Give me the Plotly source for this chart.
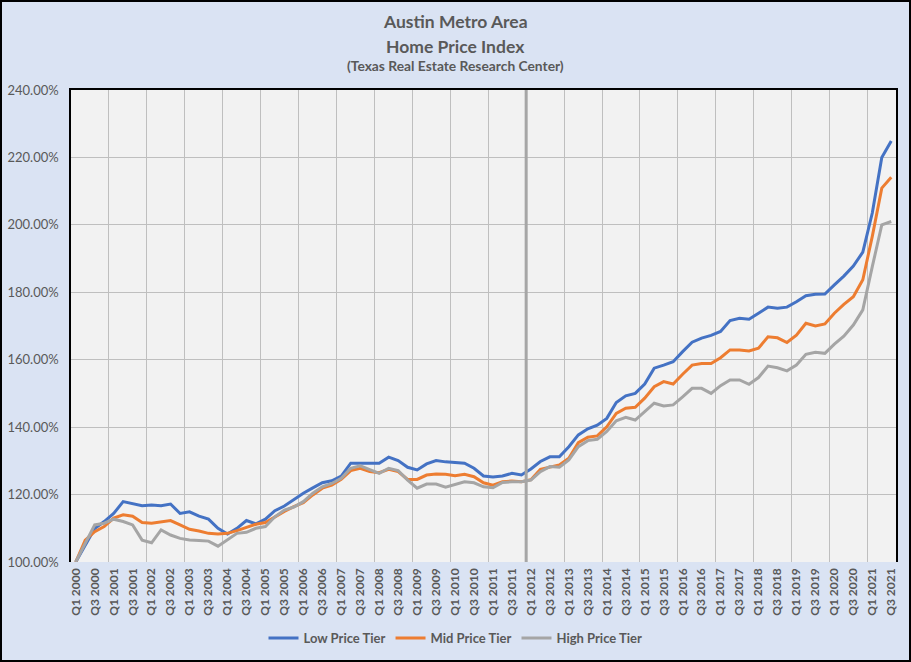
import plotly.graph_objects as go

years = list(range(2000, 2022))
quarter_names = ["Q1", "Q2", "Q3", "Q4"]
quarters = [f"{q} {y}" for y in years for q in quarter_names][:87]
tick_labels = [q for q in quarters if q.startswith("Q1") or q.startswith("Q3")]

low_tier = [100, 105, 109.9, 112, 114.4, 117.9, 117.2, 116.7, 116.9, 116.7,
            117.2, 114.4, 114.9, 113.6, 112.7, 110, 108.3, 110, 112.3, 111.3,
            112.7, 115.2, 116.6, 118.6, 120.4, 122, 123.5, 124.1, 125.5, 129.3,
            129.3, 129.1, 129.3, 131.1, 130.1, 128.1, 127.3, 129.1, 130.1, 129.7,
            129.6, 129.3, 127.8, 125.5, 125.2, 125.5, 126.3, 125.8, 127.6, 129.8,
            131.2, 131.2, 134.2, 137.7, 139.5, 140.6, 142.6, 147.3, 149.3, 150,
            152.8, 157.5, 158.4, 159.4, 162.4, 165.2, 166.4, 167.2, 168.4, 171.6,
            172.3, 172, 173.8, 175.6, 175.3, 175.6, 177.2, 179, 179.4, 179.5,
            182.2, 184.8, 187.8, 191.9, 203.5, 220, 224.9]

mid_tier = [100, 106.5, 109, 110.5, 113, 114, 113.6, 111.7, 111.5, 111.9,
            112.3, 111, 109.7, 109.2, 108.5, 108.3, 108.5, 109.3, 110.2, 111.2,
            111.7, 113.4, 115, 116.4, 117.6, 119.9, 121.9, 122.8, 124.5, 127.1,
            127.8, 126.8, 126.5, 127.5, 126.8, 124.5, 124.5, 125.8, 126.1, 126,
            125.6, 126, 125.3, 123.5, 122.8, 123.8, 124, 123.8, 124.4, 127.5,
            128.1, 128.8, 130.8, 135.4, 137, 137.4, 140.1, 144.1, 145.6, 145.9,
            148.6, 152, 153.5, 152.8, 155.7, 158.4, 158.9, 158.9, 160.6, 162.9,
            162.9, 162.6, 163.4, 166.8, 166.5, 165.1, 167.3, 170.8, 170, 170.6,
            173.8, 176.4, 178.7, 183.7, 196.6, 210.9, 214.1]

high_tier = [100, 105.6, 111, 111.5, 112.7, 112, 111, 106.5, 105.7, 109.5,
             108, 107, 106.5, 106.4, 106.2, 104.7, 106.7, 108.5, 108.8, 110,
             110.5, 113.4, 115.4, 116.3, 117.9, 120.4, 122.3, 123.3, 124.8, 127.8,
             128.5, 127.3, 126.3, 127.8, 127.1, 124.3, 121.9, 123.1, 123.1, 122.2,
             123.1, 123.8, 123.5, 122.3, 122, 123.6, 123.8, 123.8, 124.3, 126.8,
             128.3, 128.1, 130.3, 134.2, 136, 136.4, 138.7, 141.9, 142.9, 142.1,
             144.6, 147.1, 146.3, 146.6, 149, 151.5, 151.5, 150, 152.3, 154,
             154, 152.7, 154.7, 158.1, 157.6, 156.7, 158.4, 161.6, 162.2, 161.9,
             164.6, 167, 170.3, 174.8, 187.6, 200, 201]

series = [("Low Price Tier", low_tier, "#4472c4"),
          ("Mid Price Tier", mid_tier, "#ed7d31"),
          ("High Price Tier", high_tier, "#a5a5a5")]

y_ticks = [100, 120, 140, 160, 180, 200, 220, 240]
marker_quarter = "Q1 2012"

W, H = 911, 662
ML, MR, MT, MB = 71, 15, 90, 100
FONT = "Lato"
TXT = "#595959"

fig = go.Figure()
for name, vals, color in series:
    fig.add_trace(go.Scatter(x=quarters, y=vals, mode="lines", name=name,
                             line=dict(color=color, width=3)))

n = len(quarters)
boundaries = [i - 0.5 for i in range(4, n, 4)]
pw, ph = W - ML - MR, H - MT - MB
center_x = (W / 2 - ML) / pw

fig.update_layout(
    width=W, height=H,
    margin=dict(l=ML, r=MR, t=MT, b=MB, pad=0, autoexpand=False),
    paper_bgcolor="#dae3f3", plot_bgcolor="#f2f2f2",
    font=dict(family=FONT, color=TXT),
    showlegend=True,
    legend=dict(orientation="h", x=center_x, xanchor="center", y=-0.161, yanchor="middle",
                font=dict(size=13, color=TXT, weight="bold"), bgcolor="rgba(0,0,0,0)",
                itemwidth=30),
    xaxis=dict(type="category", range=[-0.5, n - 0.5], tickmode="array",
               tickvals=tick_labels, ticktext=tick_labels, tickangle=-90,
               tickfont=dict(size=12, color=TXT, weight="bold"),
               showgrid=False, showline=False, ticks="", zeroline=False,
               ticklabelstandoff=3, automargin=False),
    xaxis2=dict(overlaying="x", anchor="y", side="top", range=[-0.5, n - 0.5],
                tickmode="array", tickvals=boundaries, showticklabels=False,
                showgrid=True, gridcolor="#bfbfbf", gridwidth=1, ticks="",
                showline=True, linecolor="black", linewidth=1.5, zeroline=False,
                automargin=False),
    yaxis=dict(range=[y_ticks[0], y_ticks[-1]], tickmode="array", tickvals=y_ticks,
               ticktext=[f"{v:.2f}%" for v in y_ticks],
               tickfont=dict(size=13, color=TXT),
               showgrid=True, gridcolor="#bfbfbf", gridwidth=1,
               showline=True, linecolor="black", linewidth=1.5, mirror=True,
               ticks="", zeroline=False, ticklabelstandoff=8, automargin=False),
)

# dark separator at start of 2012
sep = quarters.index(marker_quarter) - 0.5
fig.add_shape(type="line", xref="x2", yref="paper", x0=sep, x1=sep, y0=0, y1=1,
              line=dict(color="#a6a6a6", width=3), layer="above")

# titles
def py(ypix):
    return (H - MB - ypix) / ph
titles = [("Austin Metro Area", 22, 17.5), ("Home Price Index", 46, 17.5),
          ("(Texas Real Estate Research Center)", 66, 13.8)]
for text, ypix, size in titles:
    fig.add_annotation(text=text, xref="paper", yref="paper", x=center_x,
                       y=py(ypix), xanchor="center", yanchor="middle", showarrow=False,
                       font=dict(size=size, color=TXT, family=FONT, weight="bold"))

# outer border
fig.add_shape(type="rect", xref="paper", yref="paper",
              x0=(1 - ML) / pw, x1=(W - ML - 1) / pw,
              y0=-(MB - 1) / ph, y1=(H - MB - 1) / ph,
              line=dict(color="black", width=2), fillcolor="rgba(0,0,0,0)", layer="above")

fig.write_html("out.html", config={"displayModeBar": False},
               post_script="document.body.style.margin='0';")
